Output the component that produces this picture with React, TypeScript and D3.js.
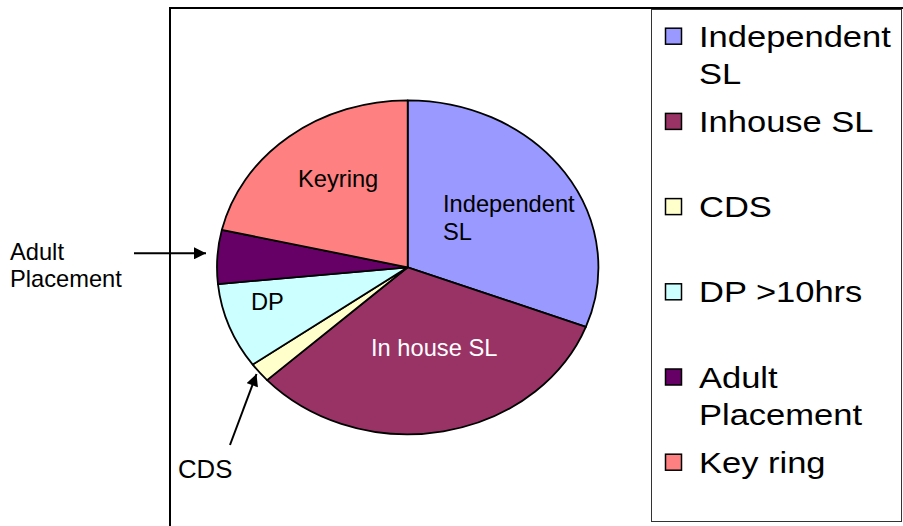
import * as d3 from 'd3';

// slice order, clockwise from 12 o'clock
const categories = ['Independent SL', 'Inhouse SL', 'CDS', 'DP >10hrs', 'Adult Placement', 'Key ring'];
const values = [30.8, 32.4, 1.9, 8.3, 5.2, 21.4];
const colors = ['#9999FF', '#993366', '#FFFFCC', '#CCFFFF', '#660066', '#FF8080'];
const legendLines = [['Independent', 'SL'], ['Inhouse SL'], ['CDS'], ['DP >10hrs'], ['Adult', 'Placement'], ['Key ring']];

const W = 903;
const H = 526;
const FONT = "'Liberation Sans', Arial, Helvetica, sans-serif";

// the original picture is stretched sideways, so the pie is an ellipse
const cx = 407.7;
const cy = 267.3;
const rx = 190.7;
const ry = 167;
const sx = 1.03; // horizontal stretch of the text

function Label({ x, y, text, size = 23, fill = '#000', scale = sx }) {
  return (
    <text
      transform={`translate(${x},${y}) scale(${scale},1)`}
      fontSize={size}
      fontFamily={FONT}
      fill={fill}
    >
      {text}
    </text>
  );
}

export default function App() {
  const pie = d3.pie<number>().sort(null).value(d => d);
  const arcs = pie(values);
  const arc = d3.arc<d3.PieArcDatum<number>>().innerRadius(0).outerRadius(rx);

  const legendX = 651.5;
  const legendStep = 85.2;
  const legendTop = 46.7;

  return (
    <svg
      width={W}
      height={H}
      style={{ position: 'absolute', left: 0, top: 0, background: '#fff' }}
    >
      <defs>
        <marker id="head" viewBox="0 0 10 10" refX="10" refY="5" markerWidth="14" markerHeight="12"
          markerUnits="userSpaceOnUse" orient="auto">
          <path d="M0,0 L10,5 L0,10 Z" fill="#000" />
        </marker>
      </defs>

      {/* plot area frame */}
      <line x1={170} x2={W} y1={8} y2={8} stroke="#000" strokeWidth={2} />
      <line x1={170} x2={170} y1={7} y2={H} stroke="#000" strokeWidth={2} />

      {/* pie */}
      <g transform={`translate(${cx},${cy}) scale(1,${ry / rx})`}>
        {arcs.map((a, i) => (
          <path
            key={categories[i]}
            d={arc(a) || ''}
            fill={colors[i]}
            stroke="#000"
            strokeWidth={1.8}
            vectorEffect="non-scaling-stroke"
            strokeLinejoin="round"
          />
        ))}
      </g>

      {/* slice labels */}
      <Label x={298} y={187} text="Keyring" />
      <Label x={443} y={212} text="Independent" />
      <Label x={443} y={240} text="SL" />
      <Label x={251} y={310} text="DP" />
      <Label x={371} y={356} text="In house SL" fill="#fff" />

      {/* callouts for the thin slices */}
      <Label x={10} y={260} text="Adult" />
      <Label x={10} y={287} text="Placement" />
      <line x1={134} y1={253.3} x2={206} y2={253.3} stroke="#000" strokeWidth={2} markerEnd="url(#head)" />
      <Label x={178} y={478} text="CDS" size={25} />
      <line x1={230} y1={445} x2={256.5} y2={374} stroke="#000" strokeWidth={2} markerEnd="url(#head)" />

      {/* legend */}
      <rect x={legendX} y={9.5} width={250} height={512} fill="#fff" stroke="#333" strokeWidth={1} />
      {legendLines.map((lines, i) => {
        const base = legendTop + i * legendStep;
        return (
          <g key={categories[i]}>
            <rect x={665.5} y={base - 18.5} width={16} height={16} fill={colors[i]} stroke="#000" strokeWidth={1.5} />
            {lines.map((t, j) => (
              <Label key={t} x={699} y={base + j * 37} text={t} size={29} scale={1.19} />
            ))}
          </g>
        );
      })}
    </svg>
  );
}
